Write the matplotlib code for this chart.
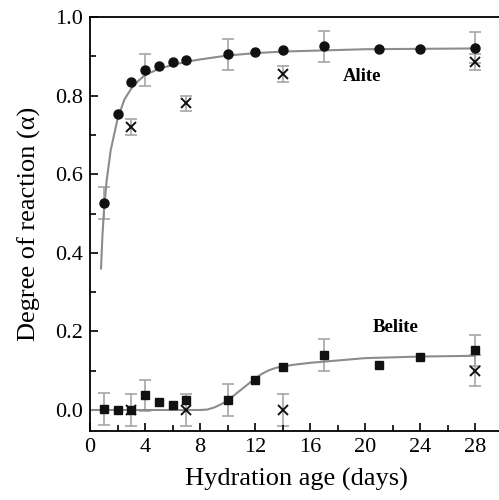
import numpy as np
import matplotlib
matplotlib.use("Agg")
import matplotlib.pyplot as plt
from matplotlib.ticker import MultipleLocator

plt.rcParams['font.family'] = ['Liberation Serif', 'DejaVu Serif']

# alite, measured (circles)
alite_x = [1, 2, 3, 4, 5, 6, 7, 10, 12, 14, 17, 21, 24, 28]
alite_y = [0.527, 0.753, 0.835, 0.865, 0.875, 0.885, 0.890, 0.905, 0.910, 0.915, 0.925, 0.918, 0.918, 0.922]
alite_err = [0.04, 0, 0, 0.04, 0, 0, 0, 0.04, 0, 0, 0.04, 0, 0, 0.04]
# alite, second method (crosses)
alite2_x = [3, 7, 14, 28]
alite2_y = [0.720, 0.780, 0.855, 0.885]
alite2_err = [0.02, 0.02, 0.02, 0.02]
# alite fit line
alite_fit_x = [0.8, 0.9, 1.0, 1.2, 1.5, 2.0, 2.5, 3.0, 3.5, 4.0, 5.0, 6.0, 7.0, 8.0, 10.0, 12.0, 14.0, 17.0, 20.0, 24.0, 28.0]
alite_fit_y = [0.36, 0.44, 0.50, 0.58, 0.66, 0.74, 0.79, 0.818, 0.837, 0.852, 0.868, 0.878, 0.886, 0.892, 0.902, 0.908, 0.912, 0.915, 0.918, 0.919, 0.920]

# belite, measured (squares)
belite_x = [1, 2, 3, 4, 5, 6, 7, 10, 12, 14, 17, 21, 24, 28]
belite_y = [0.003, 0.0, 0.0, 0.037, 0.020, 0.014, 0.025, 0.025, 0.077, 0.110, 0.140, 0.115, 0.135, 0.152]
belite_err = [0.04, 0, 0, 0.04, 0, 0, 0, 0.04, 0, 0, 0.04, 0, 0, 0.04]
# belite, second method (crosses)
belite2_x = [3, 7, 14, 28]
belite2_y = [0.0, 0.0, 0.0, 0.100]
belite2_err = [0.04, 0.04, 0.04, 0.04]
# belite fit line
belite_fit_x = [0.0, 2.0, 4.0, 6.0, 8.0, 8.5, 9.0, 9.5, 10.0, 10.5, 11.0, 11.5, 12.0, 12.5, 13.0, 13.5, 14.0, 15.0, 16.0, 18.0, 20.0, 22.0, 24.0, 26.0, 28.0]
belite_fit_y = [0.0, 0.0, 0.0, 0.0, 0.0, 0.001, 0.006, 0.014, 0.024, 0.038, 0.052, 0.066, 0.080, 0.092, 0.101, 0.107, 0.111, 0.116, 0.120, 0.126, 0.132, 0.134, 0.136, 0.137, 0.138]

fig = plt.figure(figsize=(4.99, 5.0), dpi=100)
ax = fig.add_axes([90 / 499, 69 / 500, 412.5 / 499, 414 / 500])

grey = '#8c8c8c'
ebar = '#a6a6a6'

ax.plot(alite_fit_x, alite_fit_y, color=grey, lw=1.5, zorder=2)
ax.plot(belite_fit_x, belite_fit_y, color=grey, lw=1.5, zorder=2)

def bars(x, y, e):
    xs = [a for a, b in zip(x, e) if b > 0]
    ys = [a for a, b in zip(y, e) if b > 0]
    es = [b for b in e if b > 0]
    ax.errorbar(xs, ys, yerr=es, fmt='none', ecolor=ebar, elinewidth=1.2,
                capsize=4, capthick=1.2, zorder=1)

bars(alite_x, alite_y, alite_err)
bars(alite2_x, alite2_y, alite2_err)
bars(belite_x, belite_y, belite_err)
bars(belite2_x, belite2_y, belite2_err)

ax.plot(alite_x, alite_y, 'o', color='#111111', ms=6.5, zorder=3)
ax.plot(belite_x, belite_y, 's', color='#111111', ms=6, zorder=3)
ax.plot(alite2_x, alite2_y, 'x', color='#111111', ms=6.5, mew=1.4, zorder=3)
ax.plot(belite2_x, belite2_y, 'x', color='#111111', ms=6.5, mew=1.4, zorder=3)

ax.text(19.8, 0.849, 'Alite', fontsize=13.5, fontweight='bold', ha='center', va='center')
ax.text(22.2, 0.211, 'Belite', fontsize=13.5, fontweight='bold', ha='center', va='center')

ax.set_xlim(0, 30)
ax.set_ylim(-0.0534, 1.0)
ax.set_xticks([0, 4, 8, 12, 16, 20, 24, 28])
ax.xaxis.set_minor_locator(MultipleLocator(2))
ax.yaxis.set_major_locator(MultipleLocator(0.2))
ax.yaxis.set_minor_locator(MultipleLocator(0.1))
ax.yaxis.set_major_formatter(matplotlib.ticker.FormatStrFormatter('%.1f'))
ax.tick_params(which='both', direction='in', width=1.2, labelsize=16, pad=5)
ax.tick_params(which='major', length=6)
ax.tick_params(which='minor', length=4)
ax.tick_params(top=False, right=False, which='both')
for s in ax.spines.values():
    s.set_linewidth(1.3)

ax.set_xlabel('Hydration age (days)', fontsize=19, labelpad=8)
ax.set_ylabel('Degree of reaction (\u03b1)', fontsize=19, labelpad=10)

fig.savefig('out.png', dpi=100)
